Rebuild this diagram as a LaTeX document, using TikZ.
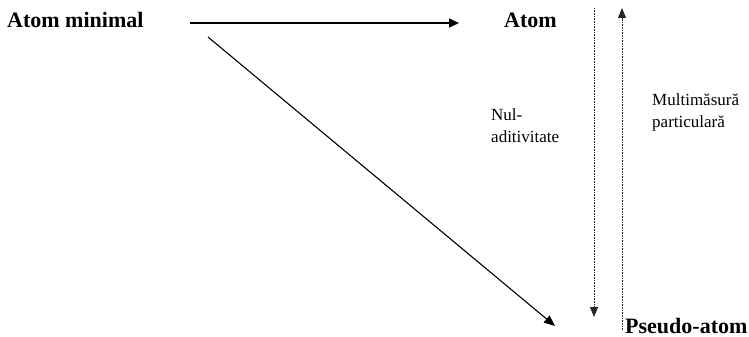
\documentclass[tikz,border=0pt]{standalone}
\usepackage{fontspec}
\setmainfont{Liberation Serif}
\usetikzlibrary{arrows.meta}
\tikzset{
  bigtxt/.style={font=\fontsize{22}{24}\selectfont\bfseries, inner sep=0pt, anchor=base west},
  smalltxt/.style={font=\fontsize{17}{22}\selectfont, inner sep=0pt, align=left, anchor=base west},
  solidarrow/.style={line width=1.4pt, -{Triangle[length=10pt,width=9pt]}},
  diagarrow/.style={line width=1.1pt, -{Triangle[length=11pt,width=9pt]}},
  dotarrow/.style={line width=0.8pt, dash pattern=on 0.8pt off 0.8pt, -{Triangle[length=10pt,width=8pt]}, black!85}
}
\begin{document}
\begin{tikzpicture}[x=1pt,y=-1pt]
\useasboundingbox (0,0) rectangle (749,337);
\node[bigtxt] (am) at (7,28) {Atom minimal};
\node[bigtxt] (atom) at (504,28) {Atom};
\node[bigtxt] (pa) at (625,333) {Pseudo-atom};
\node[smalltxt] (nul) at (491,142) {Nul-\\aditivitate};
\node[smalltxt] (mult) at (652,127) {Multimăsură\\particulară};
\coordinate (h1) at (190,23);
\coordinate (h2) at (459,23);
\coordinate (d1) at (208,37);
\coordinate (d2) at (555,326);
\coordinate (v1) at (594,8);
\coordinate (v2) at (594,317);
\coordinate (u1) at (622,330);
\coordinate (u2) at (622,8);
\draw[solidarrow] (h1) -- (h2);
\draw[diagarrow] (d1) -- (d2);
\draw[dotarrow] (v1) -- (v2);
\draw[dotarrow] (u1) -- (u2);
\end{tikzpicture}
\end{document}
